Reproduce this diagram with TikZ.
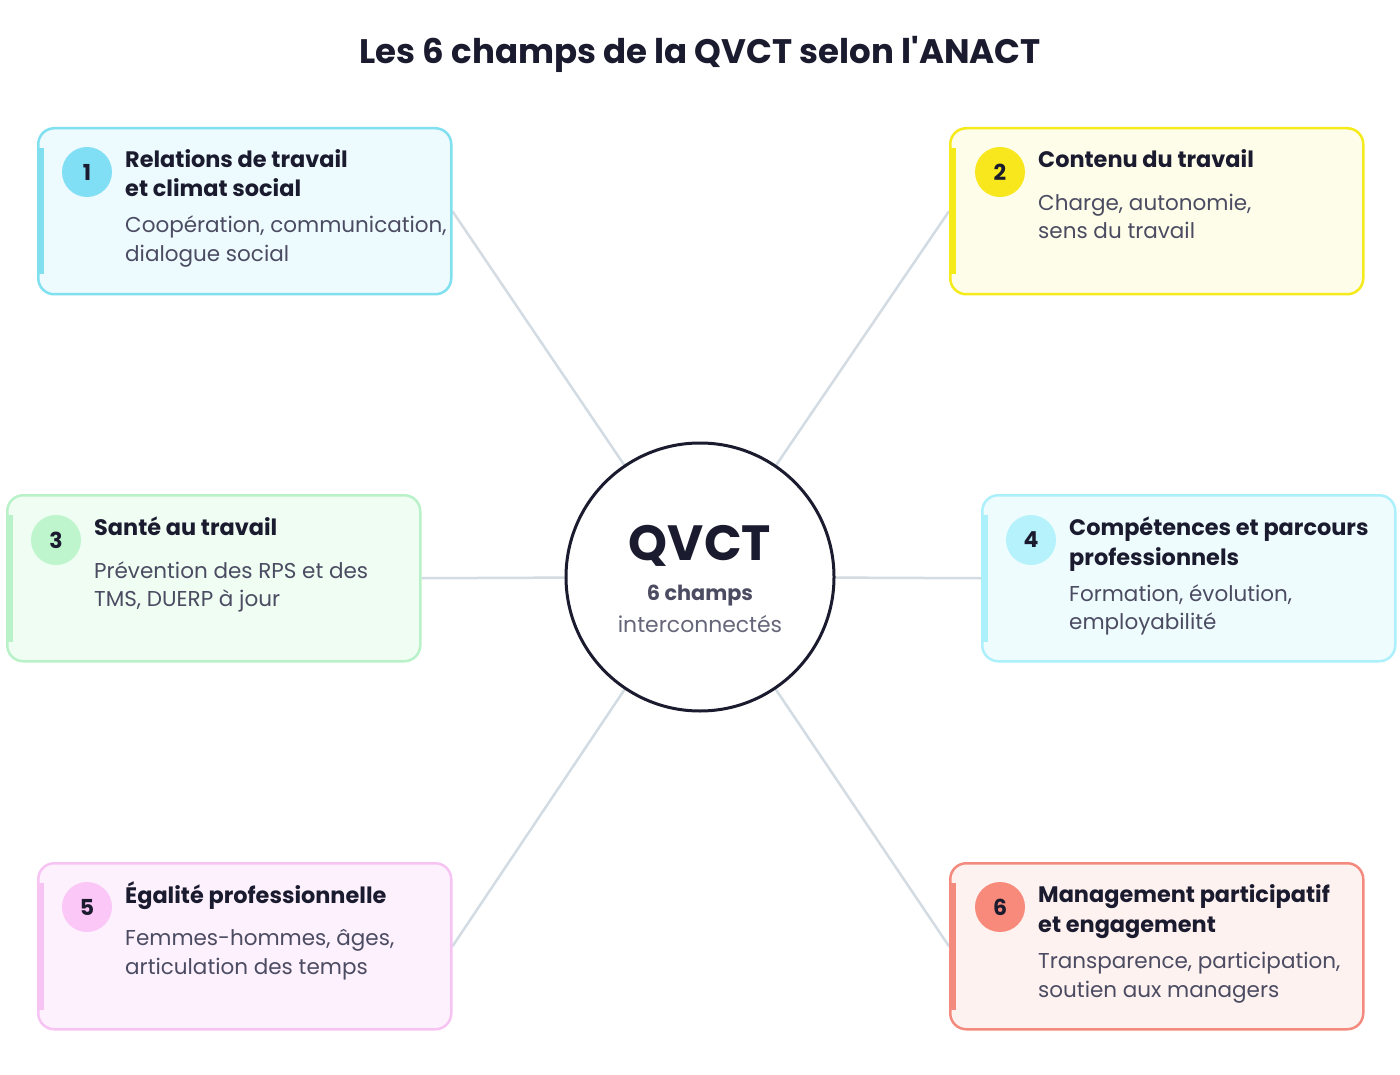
\documentclass[tikz,border=0pt]{standalone}
\usepackage{fontspec}
\setmainfont{Poppins}
\pgfdeclarelayer{bg}
\pgfsetlayers{bg,main}
\definecolor{ink}{HTML}{1B1B2F}
\definecolor{desc}{HTML}{4B4B62}
\definecolor{link}{HTML}{D3DBE3}
\definecolor{bA}{HTML}{80E0F0}\definecolor{fA}{HTML}{EDFBFE}\definecolor{kA}{HTML}{80DFF5}
\definecolor{bB}{HTML}{F5EA1A}\definecolor{fB}{HTML}{FEFDE9}\definecolor{kB}{HTML}{F8E71C}
\definecolor{bC}{HTML}{B9F2C9}\definecolor{fC}{HTML}{EFFDF2}\definecolor{kC}{HTML}{BEF5CD}
\definecolor{bD}{HTML}{ABF0FB}\definecolor{fD}{HTML}{EFFCFE}\definecolor{kD}{HTML}{B5F2FB}
\definecolor{bE}{HTML}{F7C3F2}\definecolor{fE}{HTML}{FDF1FD}\definecolor{kE}{HTML}{FAC7F7}
\definecolor{bF}{HTML}{F48A7D}\definecolor{fF}{HTML}{FEF2F0}\definecolor{kF}{HTML}{F78A7B}
\tikzset{
  card/.style 2 args={draw=#1, fill=#2, line width=2.5pt, rounded corners=16pt,
    minimum width=413pt, minimum height=166pt, anchor=north west, inner sep=0pt},
  accent/.style={draw=#1, line width=6pt},
  badge/.style={circle, fill=#1, minimum size=50pt, inner sep=0pt, text=ink,
    font=\fontsize{22}{26}\selectfont\bfseries},
  ttl/.style={anchor=base west, inner sep=0pt, text=ink, font=\fontsize{22.4}{26}\selectfont\bfseries},
  dsc/.style={anchor=base west, inner sep=0pt, text=desc, font=\fontsize{21.5}{26}\selectfont},
  link/.style={draw=link, line width=2.5pt},
}
\begin{document}
\begin{tikzpicture}[x=1pt,y=-1pt]
\useasboundingbox (0,0) rectangle (1400,1075);
\begin{pgfonlayer}{bg}
\fill[white] (0,0) rectangle (1400,1075);
\end{pgfonlayer}
\node[text=ink, font=\fontsize{34}{40}\selectfont\bfseries, anchor=base] (title) at (700,64) {Les 6 champs de la QVCT selon l\textquotesingle ANACT};

% center
\node[circle, draw=ink, fill=white, line width=3pt, minimum size=268pt, inner sep=0pt] (c) at (700,577) {};
\node[text=ink, font=\fontsize{49.5}{56}\selectfont\bfseries, anchor=base] (q) at (700,560) {QVCT};
\node[text=desc, font=\fontsize{20.8}{24}\selectfont\bfseries, anchor=base] (q2) at (700,600) {6 champs};
\node[text=desc!85!white, font=\fontsize{21.9}{24}\selectfont, anchor=base] (q3) at (700,632) {interconnectés};

% box 1
\node[card={bA}{fA}] (b1) at (37,127) {};
\draw[accent=bA] ([xshift=4pt,yshift=-21pt]b1.north west) -- ([xshift=4pt,yshift=21pt]b1.south west);
\node[badge=kA] (n1) at (87,172) {1};
\node[ttl] (t1a) at (125,168) {Relations de travail};
\node[ttl] (t1b) at (125,197) {et climat social};
\node[dsc] (d1a) at (125,233) {Coopération, communication,};
\node[dsc] (d1b) at (125,262) {dialogue social};

% box 2
\node[card={bB}{fB}] (b2) at (949,127) {};
\draw[accent=bB] ([xshift=4pt,yshift=-21pt]b2.north west) -- ([xshift=4pt,yshift=21pt]b2.south west);
\node[badge=kB] (n2) at (1000,172) {2};
\node[ttl] (t2a) at (1038,168) {Contenu du travail};
\node[dsc] (d2a) at (1038,211) {Charge, autonomie,};
\node[dsc] (d2b) at (1038,239) {sens du travail};

% box 3
\node[card={bC}{fC}] (b3) at (6,494) {};
\draw[accent=bC] ([xshift=4pt,yshift=-21pt]b3.north west) -- ([xshift=4pt,yshift=21pt]b3.south west);
\node[badge=kC] (n3) at (56,540) {3};
\node[ttl] (t3a) at (94,535) {Santé au travail};
\node[dsc] (d3a) at (94,578) {Prévention des RPS et des};
\node[dsc] (d3b) at (94,606) {TMS, DUERP à jour};

% box 4
\node[card={bD}{fD}] (b4) at (981,494) {};
\draw[accent=bD] ([xshift=4pt,yshift=-21pt]b4.north west) -- ([xshift=4pt,yshift=21pt]b4.south west);
\node[badge=kD] (n4) at (1031,540) {4};
\node[ttl] (t4a) at (1069,535) {Compétences et parcours};
\node[ttl] (t4b) at (1069,565) {professionnels};
\node[dsc] (d4a) at (1069,601) {Formation, évolution,};
\node[dsc] (d4b) at (1069,629) {employabilité};

% box 5
\node[card={bE}{fE}] (b5) at (37,862) {};
\draw[accent=bE] ([xshift=4pt,yshift=-21pt]b5.north west) -- ([xshift=4pt,yshift=21pt]b5.south west);
\node[badge=kE] (n5) at (87,907) {5};
\node[ttl] (t5a) at (125,903) {Égalité professionnelle};
\node[dsc] (d5a) at (125,945) {Femmes-hommes, âges,};
\node[dsc] (d5b) at (125,974) {articulation des temps};

% box 6
\node[card={bF}{fF}] (b6) at (949,862) {};
\draw[accent=bF] ([xshift=4pt,yshift=-21pt]b6.north west) -- ([xshift=4pt,yshift=21pt]b6.south west);
\node[badge=kF] (n6) at (1000,907) {6};
\node[ttl] (t6a) at (1038,902) {Management participatif};
\node[ttl] (t6b) at (1038,932) {et engagement};
\node[dsc] (d6a) at (1038,968) {Transparence, participation,};
\node[dsc] (d6b) at (1038,997) {soutien aux managers};

\begin{pgfonlayer}{bg}
\draw[link] (b1.east) -- (c.center);
\draw[link] (b2.west) -- (c.center);
\draw[link] (b3.east) -- (c.center);
\draw[link] (b4.west) -- (c.center);
\draw[link] (b5.east) -- (c.center);
\draw[link] (b6.west) -- (c.center);
\end{pgfonlayer}
\end{tikzpicture}
\end{document}
